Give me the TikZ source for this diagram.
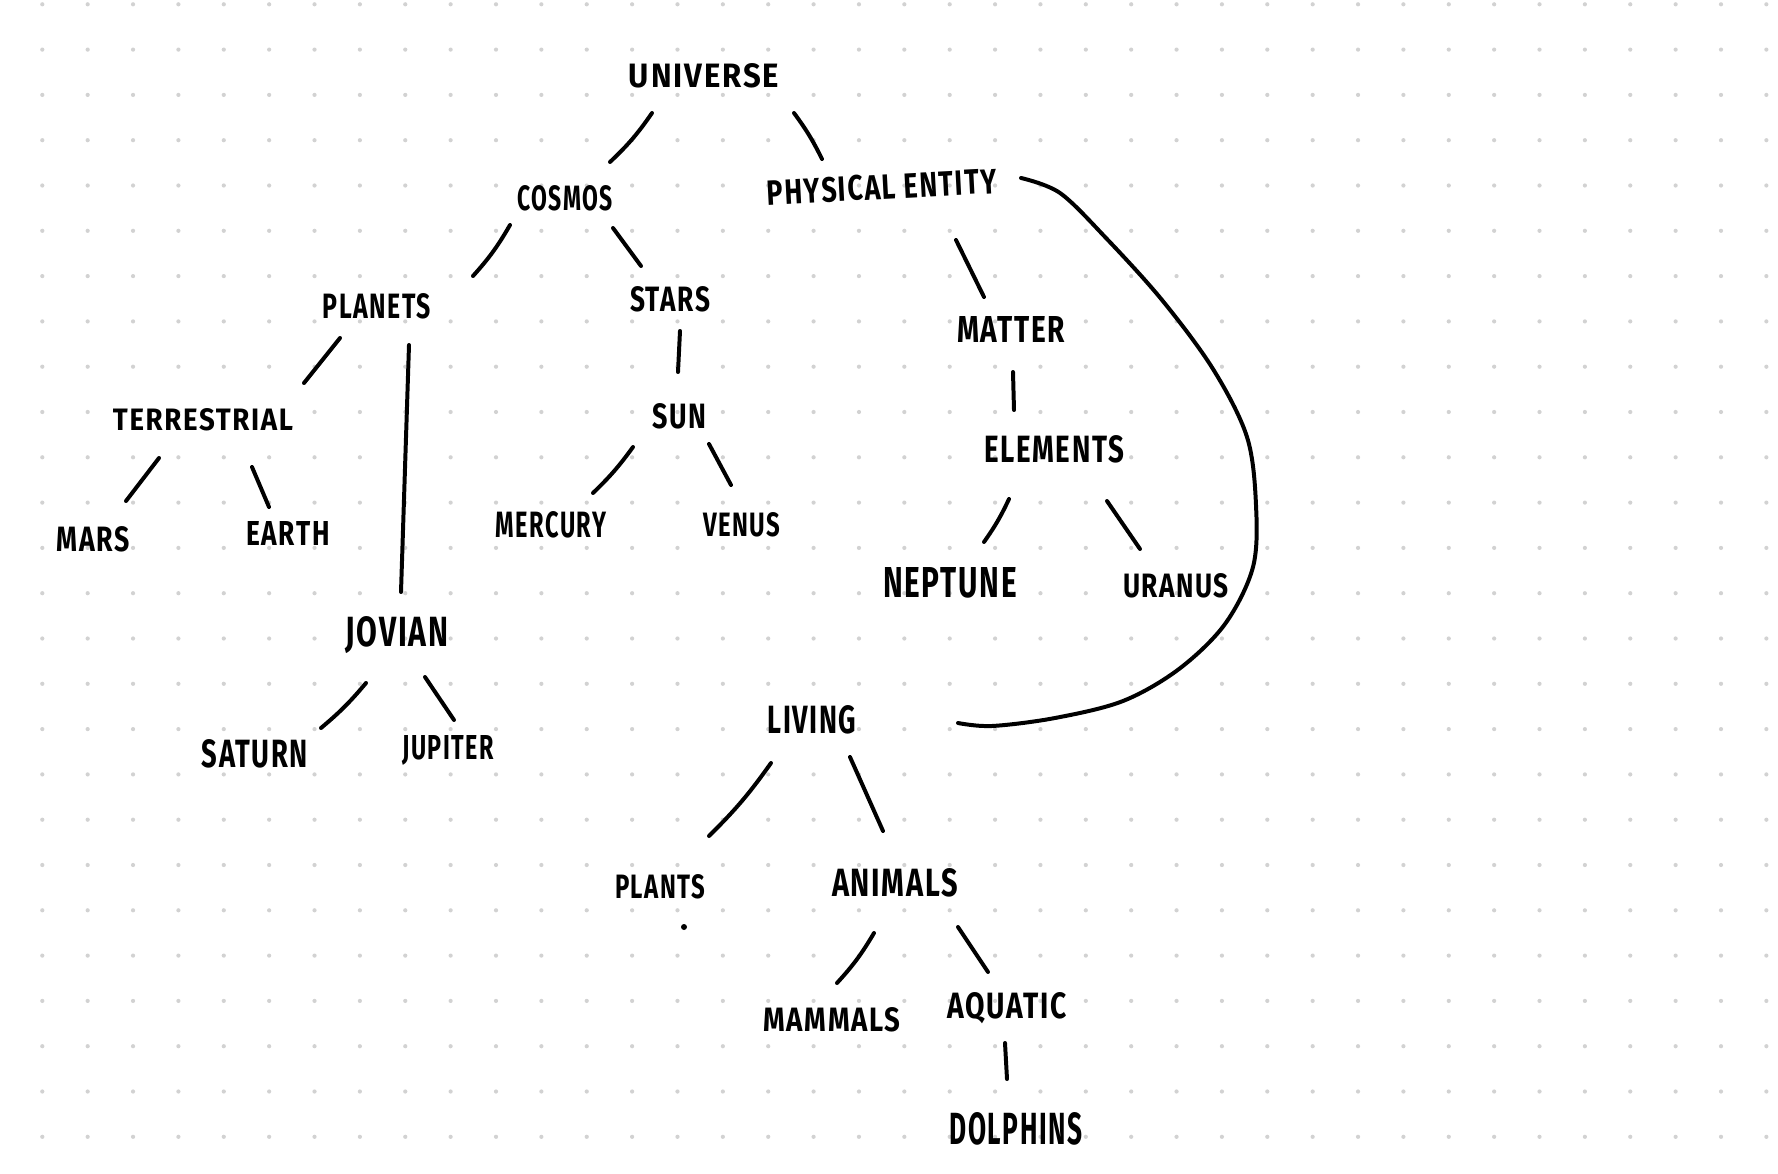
\documentclass[tikz,border=0pt]{standalone}
\usepackage{fontspec}
\usepackage{graphicx}
\usetikzlibrary{calc}
\newfontfamily\handfont[LetterSpace=6]{Fira Sans}
\newlength\pxu
\setlength\pxu{0.03cm}
\newcommand\lbl[3]{\resizebox{#1\pxu}{#2\pxu}{\handfont\bfseries #3}}
\definecolor{dotgray}{HTML}{D2D2D2}
\tikzset{
  lab/.style={inner sep=0pt, outer sep=0pt},
  stroke/.style={line width=3.4pt, line cap=round, line join=round, black},
  griddot/.style={fill=dotgray}
}
\begin{document}
\begin{tikzpicture}[x=0.03cm, y=-0.03cm]
\fill[white] (0,0) rectangle (1778,1174);
\useasboundingbox (0,0) rectangle (1778,1174);
% dot grid
\foreach \i in {0,...,38}{
  \foreach \j in {0,...,25}{
    \fill[griddot] ({42.3+45.37*\i},{4.3+45.3*\j}) circle (2.1);
  }
}
% labels
\node[lab] (universe) at (704,76)  {\lbl{150}{24}{UNIVERSE}};
\node[lab] (cosmos)   at (565,198) {\lbl{95}{25}{COSMOS}};
\node[lab,rotate=3] (phys) at (882,187) {\lbl{230}{25}{PHYSICAL ENTITY}};
\node[lab] (planets)  at (377,306) {\lbl{108}{25}{PLANETS}};
\node[lab] (stars)    at (670,299) {\lbl{80}{25}{STARS}};
\node[lab] (matter)   at (1011,329) {\lbl{108}{26}{MATTER}};
\node[lab] (terr)     at (203,420) {\lbl{180}{22}{TERRESTRIAL}};
\node[lab] (sun)      at (679,416) {\lbl{54}{25}{SUN}};
\node[lab] (elements) at (1054,449) {\lbl{140}{27}{ELEMENTS}};
\node[lab] (mars)     at (93,539)  {\lbl{73}{25}{MARS}};
\node[lab] (earth)    at (288,533) {\lbl{83}{24}{EARTH}};
\node[lab] (mercury)  at (551,525) {\lbl{110}{26}{MERCURY}};
\node[lab] (venus)    at (742,525) {\lbl{77}{24}{VENUS}};
\node[lab] (neptune)  at (950,583) {\lbl{134}{30}{NEPTUNE}};
\node[lab] (uranus)   at (1176,586) {\lbl{106}{24}{URANUS}};
\node[lab] (jovian)   at (397,635) {\lbl{103}{30}{JOVIAN}};
\node[lab] (saturn)   at (255,754) {\lbl{106}{28}{SATURN}};
\node[lab] (jupiter)  at (448,750) {\lbl{91}{24}{JUPITER}};
\node[lab] (living)   at (812,720) {\lbl{89}{28}{LIVING}};
\node[lab] (plants)   at (660,887) {\lbl{90}{24}{PLANTS}};
\node[lab] (animals)  at (895,883) {\lbl{126}{28}{ANIMALS}};
\node[lab] (mammals)  at (832,1020) {\lbl{137}{24}{MAMMALS}};
\node[lab] (aquatic)  at (1007,1008) {\lbl{119}{26}{AQUATIC}};
\node[lab] (dolphins) at (1016,1129) {\lbl{133}{32}{DOLPHINS}};
% connectors
\draw[stroke] ($(universe)+(-52,37)$) to[bend left=6] ($(cosmos)+(45,-36)$);
\draw[stroke] ($(universe)+(90,37)$) to[bend left=5] ($(phys)+(-60,-28)$);
\draw[stroke] ($(cosmos)+(-55,27)$) to[bend left=6] ($(planets)+(96,-30)$);
\draw[stroke] ($(cosmos)+(48,30)$) -- ($(stars)+(-29,-33)$);
\draw[stroke] ($(planets)+(-37,32)$) -- ($(terr)+(101,-37)$);
\draw[stroke] ($(planets)+(32,39)$) -- ($(jovian)+(4,-43)$);
\draw[stroke] ($(stars)+(10,32)$) -- ($(sun)+(-1,-44)$);
\draw[stroke] ($(terr)+(-44,38)$) -- ($(mars)+(33,-38)$);
\draw[stroke] ($(terr)+(49,47)$) -- ($(earth)+(-19,-26)$);
\draw[stroke] ($(sun)+(-46,31)$) to[bend left=5] ($(mercury)+(42,-32)$);
\draw[stroke] ($(sun)+(30,28)$) -- ($(venus)+(-11,-40)$);
\draw[stroke] ($(phys)+(74,53)$) -- ($(matter)+(-27,-32)$);
\draw[stroke] ($(matter)+(2,43)$) -- ($(elements)+(-40,-39)$);
\draw[stroke] ($(elements)+(-45,50)$) to[bend left=5] ($(neptune)+(34,-41)$);
\draw[stroke] ($(elements)+(53,52)$) -- ($(uranus)+(-36,-37)$);
\draw[stroke] ($(jovian)+(-31,48)$) to[bend left=5] ($(saturn)+(66,-26)$);
\draw[stroke] ($(jovian)+(28,42)$) -- ($(jupiter)+(6,-30)$);
\draw[stroke] plot[smooth, tension=0.55] coordinates {($(phys)+(139,-9)$) (1060,193) (1106,238) (1162,300) (1213,369) (1247,437) (1256,505) (1253,567) (1225,624) (1179,669) (1123,701) (1055,718) (992,726) ($(living)+(146,3)$)};
\draw[stroke] ($(living)+(-41,43)$) to[bend left=5] ($(plants)+(49,-51)$);
\draw[stroke] ($(living)+(38,37)$) -- ($(animals)+(-12,-52)$);
\draw[stroke] ($(animals)+(-21,50)$) to[bend left=6] ($(mammals)+(5,-37)$);
\draw[stroke] ($(animals)+(63,44)$) -- ($(aquatic)+(-19,-36)$);
\draw[stroke] ($(aquatic)+(-2,35)$) -- ($(dolphins)+(-9,-50)$);
\fill ($(plants)+(24,40)$) circle (3);
\end{tikzpicture}
\end{document}
